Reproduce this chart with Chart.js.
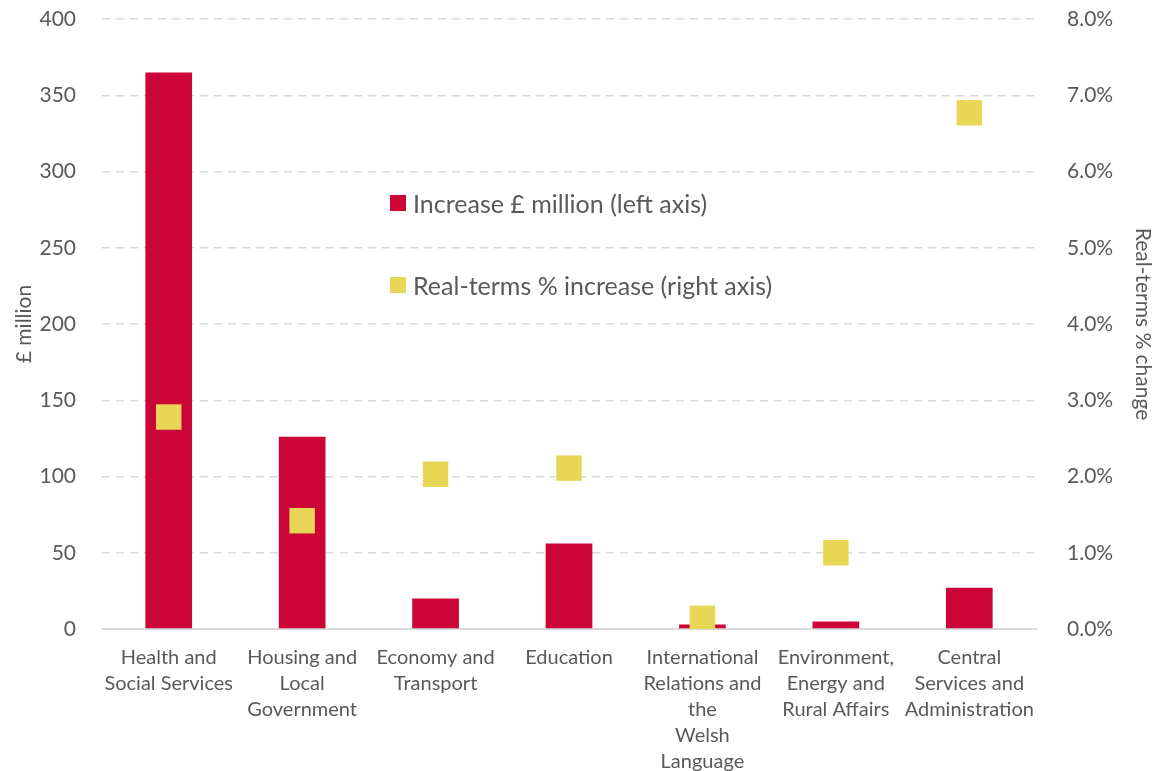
<!DOCTYPE html>
<html lang="en">
<head>
    <meta charset="UTF-8">
    <title>Increase by portfolio</title>
    <script src="https://cdn.jsdelivr.net/npm/chart.js"></script>
    <style>
        html, body { margin: 0; padding: 0; background: #fff; }
        .wrap { position: relative; width: 1157px; height: 771px; }
        #legend { position: absolute; left: 390px; top: 186px; font-family: 'Lato', sans-serif; font-size: 25px; color: #595959; }
        #legend div { display: flex; align-items: center; height: 34px; margin-bottom: 48px; }
        #legend span.box { display: inline-block; width: 16px; height: 16px; margin-right: 7px; }
    </style>
</head>
<body>
    <div class="wrap">
        <canvas id="myChart" width="1157" height="771"></canvas>
        <div id="legend"></div>
    </div>
    <script>
        const categories = [
            ['Health and', 'Social Services'],
            ['Housing and', 'Local', 'Government'],
            ['Economy and', 'Transport'],
            ['Education'],
            ['International', 'Relations and', 'the', 'Welsh', 'Language'],
            ['Environment,', 'Energy and', 'Rural Affairs'],
            ['Central', 'Services and', 'Administration']
        ];
        const increaseMillion = [365, 126, 20, 56, 3, 5, 27];
        const realTermsPct = [2.78, 1.42, 2.03, 2.11, 0.14, 1.0, 6.77];
        const leftTicks = [0, 50, 100, 150, 200, 250, 300, 350, 400];
        const rightTicks = [0, 1, 2, 3, 4, 5, 6, 7, 8];

        const textColor = '#595959';
        const gridColor = '#d9d9d9';
        const fontFamily = "'Lato', sans-serif";

        const datasets = [
            {
                type: 'line',
                label: 'Real-terms % increase (right axis)',
                data: realTermsPct,
                yAxisID: 'y1',
                showLine: false,
                pointStyle: 'rect',
                pointRadius: 18,
                pointHoverRadius: 18,
                pointBackgroundColor: '#E8D657',
                pointBorderColor: '#E8D657',
                backgroundColor: '#E8D657',
                borderWidth: 0,
                order: 0
            },
            {
                type: 'bar',
                label: 'Increase £ million (left axis)',
                data: increaseMillion,
                yAxisID: 'y',
                backgroundColor: '#CC0538',
                barPercentage: 0.35,
                categoryPercentage: 1.0,
                order: 1
            }
        ];

        // vertical axes: fixed width, no extra top/bottom room for the end labels
        function fixVertical(width) {
            return s => {
                s.width = width;
                s.paddingTop = 0;
                s.paddingBottom = 0;
            };
        }

        const chart = new Chart(document.getElementById('myChart'), {
            data: { labels: categories, datasets: datasets },
            options: {
                responsive: false,
                animation: false,
                layout: { padding: { top: 19, left: 0, right: 0, bottom: 0 } },
                plugins: { legend: { display: false }, tooltip: { enabled: false } },
                scales: {
                    x: {
                        grid: { display: false },
                        border: { display: true, color: gridColor, width: 2 },
                        ticks: { color: textColor, font: { family: fontFamily, size: 20, lineHeight: 1.3 }, padding: 8, maxRotation: 0, autoSkip: false },
                        afterFit: s => { s.height = 142; }
                    },
                    y: {
                        position: 'left',
                        min: 0, max: 400,
                        afterBuildTicks: s => { s.ticks = leftTicks.map(v => ({ value: v })); },
                        grid: { color: gridColor, lineWidth: 1.5, drawTicks: false },
                        border: { display: false, dash: [8, 6] },
                        ticks: { color: textColor, font: { family: fontFamily, size: 21 }, padding: 26 },
                        title: { display: true, text: '£ million', color: textColor, font: { family: fontFamily, size: 21 }, padding: 12 },
                        afterFit: fixVertical(102)
                    },
                    y1: {
                        position: 'right',
                        min: 0, max: 8,
                        afterBuildTicks: s => { s.ticks = rightTicks.map(v => ({ value: v })); },
                        grid: { display: false },
                        border: { display: false },
                        ticks: { color: textColor, font: { family: fontFamily, size: 21 }, padding: 23, callback: v => v.toFixed(1) + '%' },
                        title: { display: true, text: 'Real-terms % change', color: textColor, font: { family: fontFamily, size: 21 }, padding: 2 },
                        afterFit: fixVertical(121)
                    }
                }
            }
        });

        // legend inside the plot, built from the datasets (bar first)
        const legend = document.getElementById('legend');
        [datasets[1], datasets[0]].forEach(ds => {
            const row = document.createElement('div');
            const box = document.createElement('span');
            box.className = 'box';
            box.style.background = ds.backgroundColor;
            row.appendChild(box);
            row.appendChild(document.createTextNode(ds.label));
            legend.appendChild(row);
        });
    </script>
</body>
</html>
